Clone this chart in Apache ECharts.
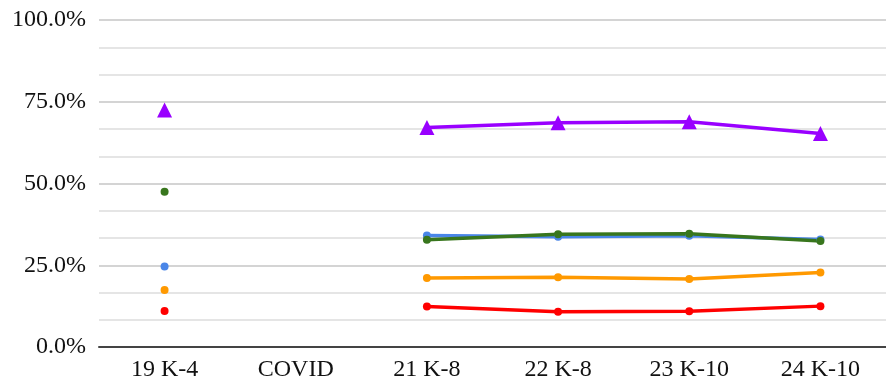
<!DOCTYPE html>
<html>
<head>
<meta charset="utf-8">
<style>
  html, body { margin: 0; padding: 0; background: #fff; }
  #chart { width: 886px; height: 384px; }
</style>
<script src="https://cdn.jsdelivr.net/npm/echarts@6/dist/echarts.min.js"></script>
</head>
<body>
<div id="chart"></div>
<script>
// Survey waves along the x axis (no data collected in the COVID year)
const categories = ['19 K-4', 'COVID', '21 K-8', '22 K-8', '23 K-10', '24 K-10'];

// Share of responses per group, in percent
const purpleValues = [72.5, null, 67.1, 68.6, 68.9, 65.3];
const greenValues  = [47.5, null, 32.8, 34.5, 34.6, 32.4];
const blueValues   = [24.6, null, 34.1, 33.7, 34.0, 32.9];
const orangeValues = [17.4, null, 21.1, 21.3, 20.8, 22.8];
const redValues    = [11.0, null, 12.4, 10.8, 10.9, 12.5];

const yTicks = { min: 0, max: 100, interval: 25 };

function lineSeries(name, data, color, symbol, size) {
  return {
    name: name,
    type: 'line',
    data: data,
    connectNulls: false,
    symbol: symbol,
    symbolSize: size,
    showAllSymbol: true,
    lineStyle: { color: color, width: 3.5 },
    itemStyle: { color: color },
    emphasis: { disabled: true }
  };
}

const chart = echarts.init(document.getElementById('chart'), null, { renderer: 'canvas' });
chart.setOption({
  animation: false,
  backgroundColor: '#ffffff',
  grid: { left: 99, top: 20, right: -6, bottom: 37, containLabel: false },
  xAxis: {
    type: 'category',
    data: categories,
    boundaryGap: true,
    axisLine: { show: true, lineStyle: { color: '#444', width: 2 } },
    axisTick: { show: false },
    axisLabel: {
      color: '#111',
      fontFamily: 'Liberation Serif',
      fontSize: 24,
      margin: 11
    },
    splitLine: { show: false }
  },
  yAxis: {
    type: 'value',
    min: yTicks.min,
    max: yTicks.max,
    interval: yTicks.interval,
    axisLine: { show: false },
    axisTick: { show: false },
    axisLabel: {
      color: '#111',
      fontFamily: 'Liberation Serif',
      fontSize: 24,
      margin: 13,
      formatter: v => v.toFixed(1) + '%'
    },
    splitLine: { show: true, lineStyle: { color: '#c6c6c6', width: 1.5 } },
    minorTick: { show: false, splitNumber: 3 },
    minorSplitLine: { show: true, lineStyle: { color: '#dddddd', width: 1.5 } }
  },
  series: [
    lineSeries('red', redValues, '#ff0000', 'circle', 8),
    lineSeries('orange', orangeValues, '#ff9900', 'circle', 8),
    lineSeries('blue', blueValues, '#4a86e8', 'circle', 8),
    lineSeries('green', greenValues, '#38761d', 'circle', 8),
    lineSeries('purple', purpleValues, '#9900ff', 'triangle', 15)
  ]
});
</script>
</body>
</html>
